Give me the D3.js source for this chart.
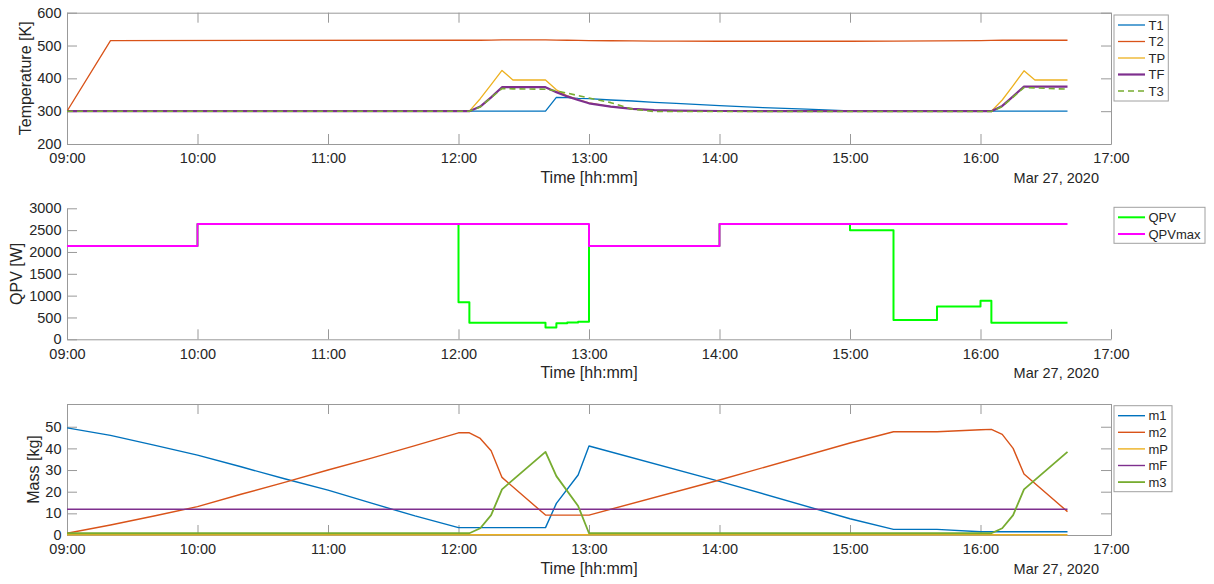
<!DOCTYPE html>
<html>
<head>
<meta charset="utf-8">
<script src="https://cdn.jsdelivr.net/npm/d3@7"></script>
<style>
  html, body { margin: 0; padding: 0; background: #fff; }
  svg { display: block; font-family: "Liberation Sans", Arial, Helvetica, sans-serif; }
</style>
</head>
<body>
<svg id="chart" width="1214" height="584"></svg>
<script>
// ---- Data -------------------------------------------------------------
const day = "2020-03-27";
const hourTicks = ["09:00","10:00","11:00","12:00","13:00","14:00","15:00","16:00","17:00"];

// Temperatures [K]
const tTemp = ["09:00","09:20","12:00","12:05","12:10","12:15","12:20","12:25","12:40","12:45",
               "12:50","12:55","13:00","13:10","13:20","13:30","13:40","14:00","14:20","14:40",
               "15:00","15:20","16:00","16:05","16:10","16:15","16:20","16:25","16:40"];
const T1 = [300,300,300,300,300,300,300,300,300,342,341,339,338,334,331,327,324,317,311,306,
            301,300,300,300,300,300,300,300,300];
const T2 = [300,515,516,516,516,516.5,517,517,517,516.5,516,515.5,515,514.5,514,513.5,513.5,513,513,513,
            513,513.5,515,515.5,516,516,516,516,516];
const TP = [300,300,300,300,338,381,424,395,395,365,347,335,325,314,307,303,301.5,300.5,300,300,
            300,300,300,300,334,378,423,395,395];
const TF = [300,300,300,300,314,342,373,373,373,358,345,334,324,314,307,303,301.5,300.5,300,300,
            300,300,300,300,316,345,375,375,375];
const T3 = [300,300,300,300,313,341,369,368,367,362,355,347.5,340,326,306,299,299,299,299,299,
            299,299,299,299,314,343,372,371,367];
const tempTicks = [200,300,400,500,600];

// PV power [W] (step signals)
const tQPV = ["09:00","10:00","12:00","12:05","12:40","12:45","12:50","12:55","13:00","14:00",
              "15:00","15:20","15:40","16:00","16:05","16:40"];
const QPV  = [2135,2640,850,380,270,370,385,400,2135,2640,2500,440,750,885,380,380];
const tQPVmax = ["09:00","10:00","13:00","14:00","16:40"];
const QPVmax  = [2135,2640,2135,2640,2640];
const qpvTicks = [0,500,1000,1500,2000,2500,3000];

// Masses [kg]
const tMass = ["09:00","09:20","09:40","10:00","10:20","10:40","11:00","11:20","11:40","12:00",
               "12:05","12:10","12:15","12:20","12:40","12:45","12:55","13:00","14:00","15:00",
               "15:20","15:40","16:00","16:05","16:10","16:15","16:20","16:40"];
const m1 = [49.5,46,41.5,36.9,31.5,26,20.7,14.7,8.8,3.4,
            3.4,3.4,3.4,3.4,3.4,14.6,27.7,41.1,24.8,7.5,
            2.6,2.6,1.5,1.5,1.5,1.5,1.5,1.5];
const m2 = [0.8,4.6,8.8,13.1,18.8,24.3,30,35.5,41.3,47.2,
            47.2,44.6,38.9,26.6,9.2,9.2,9.2,9.2,25.4,42.5,
            47.7,47.7,48.6,48.8,46.5,40,28.2,10.8];
const mP = [0.15,0.15,0.15,0.15,0.15,0.15,0.15,0.15,0.15,0.15,
            0.15,0.15,0.15,0.15,0.15,0.15,0.15,0.15,0.15,0.15,
            0.15,0.15,0.15,0.15,0.15,0.15,0.15,0.15];
const mF = [11.9,11.9,11.9,11.9,11.9,11.9,11.9,11.9,11.9,11.9,
            11.9,11.9,11.9,11.9,11.9,11.9,11.9,11.9,11.9,11.9,
            11.9,11.9,11.9,11.9,11.9,11.9,11.9,11.9];
const m3 = [0.8,0.8,0.8,0.8,0.8,0.8,0.8,0.8,0.8,0.8,
            0.8,3.1,9.2,21.1,38.4,27.2,13.4,0.8,0.8,0.8,
            0.8,0.8,0.8,0.8,3.1,9.2,21.1,38.4];
const massTicks = [0,10,20,30,40,50];

// ---- Helpers ----------------------------------------------------------
const parse = d3.timeParse("%Y-%m-%d %H:%M");
const at = s => parse(day + " " + s);
const fmtHM = d3.timeFormat("%H:%M");

const svg = d3.select("#chart");
const AXIS = "#999999", TEXT = "#262626";
const X0 = 67, X1 = 1111;

const x = d3.scaleTime().domain([at("09:00"), at("17:00")]).range([X0, X1]);

function styleAxis(g) {
  g.attr("font-family", null).attr("font-size", null);
  g.select(".domain").attr("stroke", AXIS).attr("stroke-width", 1);
  g.selectAll(".tick line").attr("stroke", AXIS).attr("stroke-width", 1);
  g.selectAll(".tick text").attr("fill", TEXT).style("font-size", "14.5px");
}

function panel(cfg) {
  const y = d3.scaleLinear().domain(cfg.domain).range([cfg.bottom, cfg.top]);
  const g = svg.append("g");
  const clipId = "clip-" + cfg.id;
  svg.append("clipPath").attr("id", clipId)
    .append("rect").attr("x", X0).attr("y", cfg.top - 2)
    .attr("width", X1 - X0).attr("height", cfg.bottom - cfg.top + 4);

  // axes (ticks pointing inward)
  g.append("g").attr("transform", `translate(0,${cfg.bottom})`)
    .call(d3.axisBottom(x).tickValues(hourTicks.map(at)).tickFormat(fmtHM)
      .tickSizeInner(-10).tickSizeOuter(0).tickPadding(9.2))
    .call(styleAxis);
  g.append("g").attr("transform", `translate(${X0},0)`)
    .call(d3.axisLeft(y).tickValues(cfg.ticks).tickFormat(d3.format("d"))
      .tickSizeInner(-10).tickSizeOuter(0).tickPadding(5.5))
    .call(styleAxis);
  if (cfg.box) {
    g.append("g").attr("transform", `translate(0,${cfg.top})`)
      .call(d3.axisTop(x).tickValues(hourTicks.map(at)).tickFormat("")
        .tickSizeInner(-10).tickSizeOuter(0))
      .call(styleAxis);
    g.append("g").attr("transform", `translate(${X1},0)`)
      .call(d3.axisRight(y).tickValues(cfg.ticks).tickFormat("")
        .tickSizeInner(-10).tickSizeOuter(0))
      .call(styleAxis);
  }

  // series
  const plot = g.append("g").attr("clip-path", `url(#${clipId})`);
  cfg.series.forEach(s => {
    const pts = s.t.map((t, i) => [at(t), s.v[i]]);
    const line = d3.line().x(d => x(d[0])).y(d => y(d[1]))
      .curve(s.step ? d3.curveStepAfter : d3.curveLinear);
    plot.append("path").datum(pts)
      .attr("fill", "none").attr("stroke", s.color)
      .attr("stroke-width", s.width)
      .attr("stroke-dasharray", s.dash || null)
      .attr("stroke-linejoin", "round")
      .attr("d", line);
  });

  // labels
  g.append("text").attr("x", (X0 + X1) / 2).attr("y", cfg.bottom + 39)
    .attr("text-anchor", "middle").attr("fill", TEXT).style("font-size", "16px")
    .text("Time [hh:mm]");
  g.append("text").attr("x", 1099).attr("y", cfg.bottom + 38.7)
    .attr("text-anchor", "end").attr("fill", TEXT).style("font-size", "14.5px")
    .text("Mar 27, 2020");
  g.append("text")
    .attr("transform", `translate(${cfg.ylabelX},${(cfg.top + cfg.bottom) / 2}) rotate(-90)`)
    .attr("text-anchor", "middle").attr("fill", TEXT).style("font-size", "16px")
    .text(cfg.ylabel);

  // legend
  const L = cfg.legend;
  const lg = g.append("g");
  lg.append("rect").attr("x", 1114).attr("y", L.top)
    .attr("width", L.width).attr("height", L.height)
    .attr("fill", "#fff").attr("stroke", "#a0a0a0").attr("stroke-width", 1);
  cfg.series.forEach((s, i) => {
    const yy = L.first + i * L.step;
    lg.append("line").attr("x1", 1118).attr("x2", 1145).attr("y1", yy).attr("y2", yy)
      .attr("stroke", s.color).attr("stroke-width", s.width)
      .attr("stroke-dasharray", s.dash || null);
    lg.append("text").attr("x", 1148.5).attr("y", yy).attr("dy", "0.36em")
      .attr("fill", TEXT).style("font-size", "13px").text(s.name);
  });
}

const C = { blue: "#0072BD", orange: "#D95319", yellow: "#EDB120",
            purple: "#7E2F8E", green: "#77AC30" };

panel({
  id: "temp", top: 12.7, bottom: 144, domain: [200, 600], ticks: tempTicks, box: true,
  ylabel: "Temperature [K]", ylabelX: 30.8,
  legend: { top: 15, width: 54.3, height: 86, first: 25, step: 16.5 },
  series: [
    { name: "T1", t: tTemp, v: T1, color: C.blue,   width: 1.3 },
    { name: "T2", t: tTemp, v: T2, color: C.orange, width: 1.3 },
    { name: "TP", t: tTemp, v: TP, color: C.yellow, width: 1.3 },
    { name: "TF", t: tTemp, v: TF, color: C.purple, width: 2.2 },
    { name: "T3", t: tTemp, v: T3, color: C.green,  width: 1.6, dash: "6,4" }
  ]
});

panel({
  id: "qpv", top: 208.3, bottom: 339.3, domain: [0, 3000], ticks: qpvTicks, box: false,
  ylabel: "QPV [W]", ylabelX: 21.5,
  legend: { top: 207.3, width: 91, height: 36, first: 217.3, step: 16.7 },
  series: [
    { name: "QPV",    t: tQPV,    v: QPV,    color: "#00FF00", width: 2, step: true },
    { name: "QPVmax", t: tQPVmax, v: QPVmax, color: "#FF00FF", width: 2, step: true }
  ]
});

panel({
  id: "mass", top: 404, bottom: 535, domain: [0, 60.5], ticks: massTicks, box: true,
  ylabel: "Mass [kg]", ylabelX: 39.2,
  legend: { top: 405.7, width: 58, height: 86, first: 415.7, step: 16.6 },
  series: [
    { name: "m1", t: tMass, v: m1, color: C.blue,   width: 1.4 },
    { name: "m2", t: tMass, v: m2, color: C.orange, width: 1.4 },
    { name: "mP", t: tMass, v: mP, color: C.yellow, width: 1.4 },
    { name: "mF", t: tMass, v: mF, color: C.purple, width: 1.4 },
    { name: "m3", t: tMass, v: m3, color: C.green,  width: 1.8 }
  ]
});
</script>
</body>
</html>
